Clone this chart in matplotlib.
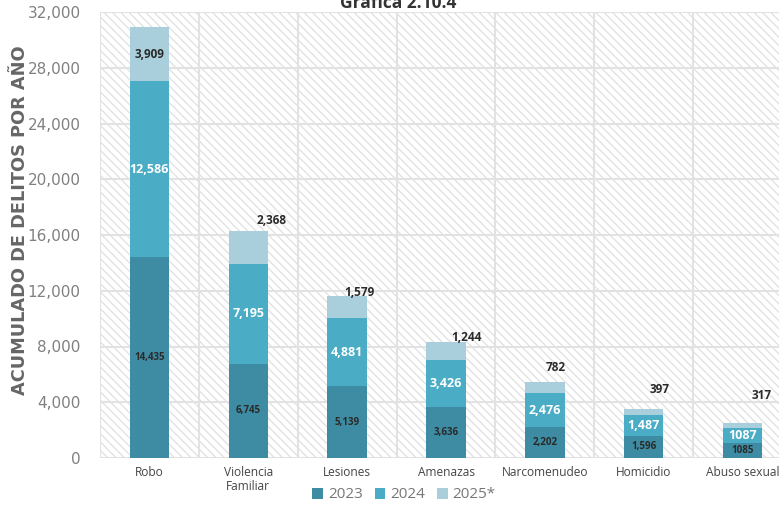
import matplotlib.pyplot as plt
from matplotlib.patches import Rectangle
from matplotlib.ticker import FuncFormatter

plt.rcParams["font.family"] = ["Open Sans", "DejaVu Sans"]
plt.rcParams["hatch.linewidth"] = 0.9

categories = ["Robo", "Violencia\nFamiliar", "Lesiones", "Amenazas",
              "Narcomenudeo", "Homicidio", "Abuso sexual"]
v2023 = [14435, 6745, 5139, 3636, 2202, 1596, 1085]
v2024 = [12586, 7195, 4881, 3426, 2476, 1487, 1087]
v2025 = [3909, 2368, 1579, 1244, 782, 397, 317]
labels2023 = ["14,435", "6,745", "5,139", "3,636", "2,202", "1,596", "1085"]
labels2024 = ["12,586", "7,195", "4,881", "3,426", "2,476", "1,487", "1087"]
labels2025 = ["3,909", "2,368", "1,579", "1,244", "782", "397", "317"]

# where the 2025 labels sit relative to the bar top (pixels), None = inside
label25_offsets = [None, (23, 10), (12, 4), (20, 5), (11, 14), (16, 20), (19, 28)]

C23 = "#3d8ca3"
C24 = "#4aacc5"
C25 = "#a9cfdc"

W, H = 779, 508
fig = plt.figure(figsize=(W / 100, H / 100), dpi=100)
ax = fig.add_axes([100 / W, 50 / H, 692 / W, 446 / H])

x = list(range(len(categories)))
ax.set_xlim(-0.5, len(categories) - 0.5)
ax.set_ylim(0, 32000)

# hatched background
ax.add_patch(Rectangle((0, 0), 1, 1, transform=ax.transAxes, facecolor="white",
                       edgecolor="#e0e0e0", hatch="\\\\\\\\", linewidth=0, zorder=0))
for i in range(len(categories) + 1):
    ax.axvline(i - 0.5, color="#e2e2e2", lw=1.5, zorder=1)
for yv in range(0, 32001, 4000):
    ax.axhline(yv, color="#e2e2e2", lw=1.5, zorder=1)

bw = 0.4
bottom24 = v2023
bottom25 = [a + b for a, b in zip(v2023, v2024)]
ax.bar(x, v2023, bw, color=C23, zorder=2, label="2023")
ax.bar(x, v2024, bw, bottom=bottom24, color=C24, zorder=2, label="2024")
ax.bar(x, v2025, bw, bottom=bottom25, color=C25, zorder=2, label="2025*")

for i in x:
    ax.text(i, v2023[i] / 2, labels2023[i], ha="center", va="center",
            fontsize=7, fontweight="bold", color="#2a2a2a", zorder=3)
    ax.text(i, v2023[i] + v2024[i] / 2, labels2024[i], ha="center", va="center",
            fontsize=9, fontweight="bold", color="white", zorder=3)
    off = label25_offsets[i]
    if off is None:
        ax.text(i, bottom25[i] + v2025[i] / 2, labels2025[i], ha="center", va="center",
                fontsize=8.5, fontweight="bold", color="#2a2a2a", zorder=3)
    else:
        ax.annotate(labels2025[i], (i, bottom25[i] + v2025[i]),
                    xytext=(off[0] * 0.72, off[1] * 0.72),
                    textcoords="offset points", ha="center", va="center",
                    fontsize=8.5, fontweight="bold", color="#2a2a2a", zorder=3)

ax.set_xticks(x)
ax.set_xticklabels(categories, fontsize=8.6, color="#444444", linespacing=1.1)
ax.set_yticks(range(0, 32001, 4000))
ax.yaxis.set_major_formatter(FuncFormatter(lambda v, p: f"{int(v):,}"))
ax.tick_params(axis="y", labelsize=11, colors="#808080", length=0, pad=14)
for t in ax.get_yticklabels():
    t.set_fontfamily("DejaVu Sans")
ax.tick_params(axis="x", length=0, pad=6)
for s in ax.spines.values():
    s.set_visible(False)

ax.set_ylabel("ACUMULADO DE DELITOS POR AÑO", fontsize=12.8, fontweight="bold",
              color="#666666", family="DejaVu Sans")
ax.yaxis.set_label_coords(-71 / 692, 0.534)

fig.text(398 / W, 1 - 3 / H, "Gráfica 2.10.4", ha="center", va="center",
         fontsize=12.5, fontweight="bold", color="#333333")

leg = fig.legend(loc="center", bbox_to_anchor=(404 / W, 1 - 495 / H), ncol=3,
                 frameon=False, fontsize=11, handlelength=0.7, handleheight=0.7,
                 handletextpad=0.3, columnspacing=0.8)
for t in leg.get_texts():
    t.set_color("#777777")

fig.savefig("out.png", dpi=100)
